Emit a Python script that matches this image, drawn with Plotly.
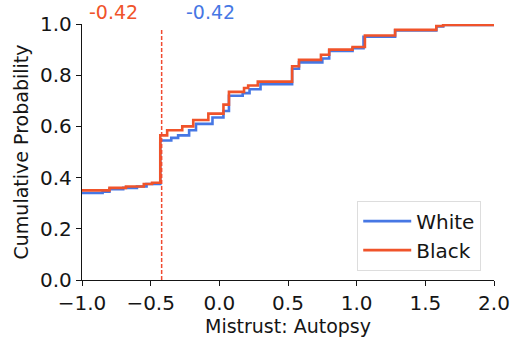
import plotly.graph_objects as go

# ECDF step data
white_x = [-1.0, -0.85, -0.80, -0.70, -0.60, -0.53, -0.43, -0.35, -0.30, -0.22, -0.17, -0.05,
           0.03, 0.07, 0.17, 0.22, 0.30, 0.53, 0.58, 0.75, 0.80, 0.97, 1.05, 1.28, 1.58, 1.63, 2.0]
white_y = [0.34, 0.345, 0.355, 0.36, 0.365, 0.375, 0.545, 0.555, 0.565, 0.585, 0.61, 0.635,
           0.66, 0.72, 0.73, 0.745, 0.765, 0.825, 0.85, 0.865, 0.895, 0.905, 0.95, 0.975, 0.99, 0.996, 1.0]

black_x = [-1.0, -0.80, -0.68, -0.55, -0.49, -0.43, -0.38, -0.27, -0.19, -0.08, 0.03, 0.07,
           0.18, 0.21, 0.28, 0.53, 0.58, 0.74, 0.80, 0.97, 1.06, 1.28, 1.58, 1.63, 2.0]
black_y = [0.35, 0.36, 0.365, 0.375, 0.38, 0.565, 0.585, 0.60, 0.625, 0.65, 0.685, 0.735,
           0.75, 0.76, 0.775, 0.835, 0.86, 0.88, 0.90, 0.91, 0.955, 0.977, 0.992, 0.996, 1.0]

median_white = -0.42
median_black = -0.42
median_labels = ["-0.42", "-0.42"]

x_ticks = [-1.0, -0.5, 0.0, 0.5, 1.0, 1.5, 2.0]
y_ticks = [0.0, 0.2, 0.4, 0.6, 0.8, 1.0]

BLUE = "#4677e4"
RED = "#f0532a"
FONT = "DejaVu Sans"
TXT = "#151515"

fig = go.Figure()
fig.add_trace(go.Scatter(x=white_x, y=white_y, mode="lines", line_shape="hv",
                         line=dict(color=BLUE, width=2.6), name="White"))
fig.add_trace(go.Scatter(x=black_x, y=black_y, mode="lines", line_shape="hv",
                         line=dict(color=RED, width=2.6), name="Black"))

fig.add_shape(type="line", x0=median_black, x1=median_black, y0=0, y1=0.98,
              xref="x", yref="y", line=dict(color="#f04a30", width=1.5, dash="4px,2px"))

fig.add_annotation(x=-0.96, y=1.045, xref="x", yref="paper", text=median_labels[1],
                   showarrow=False, xanchor="left", yanchor="middle",
                   font=dict(color=RED, size=19, family=FONT))
fig.add_annotation(x=-0.26, y=1.045, xref="x", yref="paper", text=median_labels[0],
                   showarrow=False, xanchor="left", yanchor="middle",
                   font=dict(color=BLUE, size=19, family=FONT))

fig.update_layout(
    width=522, height=345,
    margin=dict(l=82, r=16, t=23, b=63),
    paper_bgcolor="white", plot_bgcolor="white",
    font=dict(family=FONT, size=20, color=TXT),
    showlegend=True,
    legend=dict(x=0.969, y=0.31, xanchor="right", yanchor="top",
                bgcolor="white", bordercolor="#dddddd", borderwidth=1,
                font=dict(size=20, family=FONT, color=TXT),
                itemwidth=48, tracegroupgap=6),
)
fig.update_xaxes(range=[-1.0, 2.0], tickvals=x_ticks,
                 ticktext=[f"{v:.1f}".replace("-", "\u2212") for v in x_ticks],
                 showgrid=False, zeroline=False, showline=True, linecolor=TXT,
                 linewidth=1.4, ticks="outside", ticklen=5, tickwidth=1.4, tickcolor=TXT,
                 tickfont=dict(size=20),
                 title=dict(text="Mistrust: Autopsy", standoff=4, font=dict(size=19)))
fig.update_yaxes(range=[0.0, 1.0], tickvals=y_ticks,
                 ticktext=[f"{v:.1f}" for v in y_ticks],
                 showgrid=False, zeroline=False, showline=True, linecolor=TXT,
                 linewidth=1.4, ticks="outside", ticklen=5, tickwidth=1.4, tickcolor=TXT,
                 tickfont=dict(size=20),
                 title=dict(text="Cumulative Probability", standoff=6, font=dict(size=19)))

fig.write_html("out.html")
